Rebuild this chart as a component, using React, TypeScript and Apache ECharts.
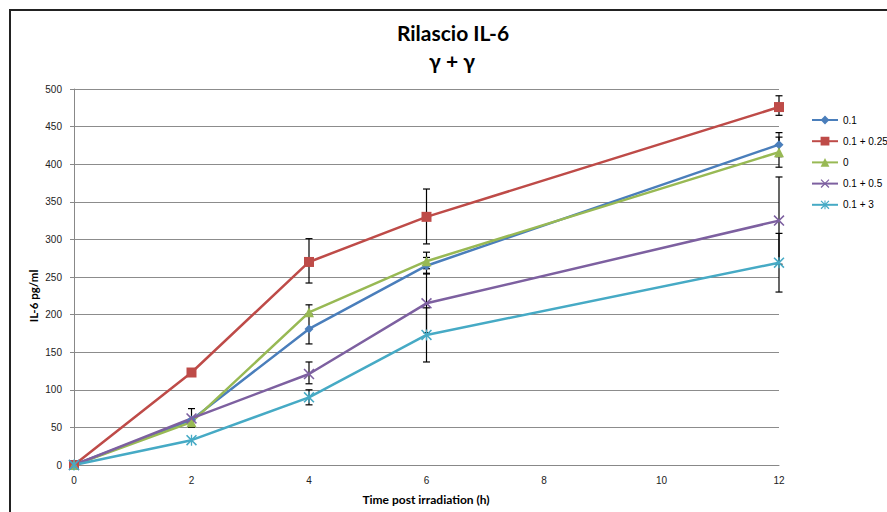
import React, { useEffect, useRef } from "react";
import * as echarts from "echarts";

const hours = [0, 2, 4, 6, 12];
const seriesNames = ["0.1", "0.1 + 0.25", "0", "0.1 + 0.5", "0.1 + 3"];
const s01 = [0, 60, 181, 265, 426];
const s025 = [0, 123, 270, 330, 476];
const s0 = [0, 57, 203, 271, 416];
const s05 = [0, 62, 121, 215, 325];
const s3 = [0, 33, 90, 173, 269];
// error bar ranges (low, high) per series, null where absent
const err01Low = [null, 50, 161, 254, 410];
const err01High = [null, 75, 201, 276, 442];
const err025Low = [null, null, 242, 294, 465];
const err025High = [null, null, 301, 367, 491];
const err0Low = [null, null, 198, 261, 396];
const err0High = [null, null, 213, 283, 436];
const err05Low = [null, null, 108, 176, 267];
const err05High = [null, null, 137, 255, 383];
const err3Low = [null, null, 80, 137, 230];
const err3High = [null, null, 100, 209, 308];
const yTicks = [0, 50, 100, 150, 200, 250, 300, 350, 400, 450, 500];
const xTicks = [0, 2, 4, 6, 8, 10, 12];

const colors = ["#4A7EBB", "#BE4B48", "#98B954", "#7D60A0", "#46AAC5"];
const xPath =
  "path://M0,1L1,0L5,4L9,0L10,1L6,5L10,9L9,10L5,6L1,10L0,9L4,5Z";
const starPath =
  "path://M0,1L1,0L5,4L9,0L10,1L6,5L10,9L9,10L5,6L1,10L0,9L4,5Z M4.4,0L5.6,0L5.6,10L4.4,10Z";
const symbols = ["diamond", "rect", "triangle", xPath, starPath];
const symbolSizes = [9, 10, 10, 11, 11];

export default function App() {
  const ref = useRef<HTMLDivElement>(null);
  useEffect(() => {
    if (!ref.current) return;
    const chart = echarts.init(ref.current, undefined, { renderer: "svg" });
    const vals = [s01, s025, s0, s05, s3];
    const lows = [err01Low, err025Low, err0Low, err05Low, err3Low];
    const highs = [err01High, err025High, err0High, err05High, err3High];
    const errData: number[][] = [];
    lows.forEach((lo, si) => {
      lo.forEach((l, i) => {
        const h = highs[si][i];
        if (l !== null && h !== null) errData.push([hours[i], l as number, h as number]);
      });
    });
    const lineSeries = vals.map((v, si) => ({
      name: seriesNames[si],
      type: "line",
      data: hours.map((h, i) => [h, v[i]]),
      symbol: symbols[si],
      symbolSize: symbolSizes[si],
      showAllSymbol: true,
      lineStyle: { color: colors[si], width: 2.5 },
      itemStyle: { color: colors[si] },
      z: 3,
    }));
    const errSeries = {
      name: "err",
      type: "custom",
      data: errData,
      z: 2,
      renderItem: (params: any, api: any) => {
        const x = api.value(0);
        const lo = api.coord([x, api.value(1)]);
        const hi = api.coord([x, api.value(2)]);
        const w = 3.5;
        const st = { stroke: "#000", lineWidth: 1.2 };
        return {
          type: "group",
          children: [
            { type: "line", shape: { x1: lo[0], y1: lo[1], x2: hi[0], y2: hi[1] }, style: st },
            { type: "line", shape: { x1: lo[0] - w, y1: lo[1], x2: lo[0] + w, y2: lo[1] }, style: st },
            { type: "line", shape: { x1: hi[0] - w, y1: hi[1], x2: hi[0] + w, y2: hi[1] }, style: st },
          ],
        };
      },
    };
    chart.setOption({
      animation: false,
      backgroundColor: "#fff",
      grid: { left: 74, right: 108, top: 89, bottom: 47 },
      legend: {
        data: seriesNames,
        orient: "vertical",
        left: 806,
        top: 110,
        itemWidth: 26,
        itemHeight: 11,
        itemGap: 11.2,
        textStyle: { fontFamily: "Liberation Sans", fontSize: 10, color: "#000" },
      },
      xAxis: {
        type: "value",
        min: xTicks[0],
        max: xTicks[xTicks.length - 1],
        interval: 2,
        axisLine: { show: true, onZero: false, lineStyle: { color: "#888" } },
        axisTick: { show: false },
        splitLine: { show: false },
        axisLabel: { fontFamily: "Liberation Sans", fontSize: 10, color: "#222", margin: 10 },
      },
      yAxis: {
        type: "value",
        min: yTicks[0],
        max: yTicks[yTicks.length - 1],
        interval: 50,
        axisLine: { show: true, lineStyle: { color: "#888" } },
        axisTick: { show: true, length: 4, lineStyle: { color: "#888" } },
        splitLine: { show: true, lineStyle: { color: "#8c8c8c", width: 1 } },
        axisLabel: { fontFamily: "Liberation Sans", fontSize: 10, color: "#222", margin: 12 },
      },
      graphic: [
        {
          type: "polyline",
          shape: { points: [[10, 512], [10, 10], [887, 10]] },
          style: { stroke: "#222", lineWidth: 2, fill: "none" },
        },
        {
          type: "text",
          x: 453,
          y: 32,
          style: {
            text: "Rilascio IL-6",
            fontFamily: "Lato",
            fontWeight: "bold",
            fontSize: 21,
            fill: "#000",
            align: "center",
            verticalAlign: "middle",
          },
        },
        {
          type: "text",
          x: 452,
          y: 60,
          style: {
            text: "γ + γ",
            fontFamily: "Lato",
            fontWeight: "bold",
            fontSize: 21,
            fill: "#000",
            align: "center",
            verticalAlign: "middle",
          },
        },
        {
          type: "text",
          x: 33,
          y: 296,
          rotation: Math.PI / 2,
          style: {
            text: "IL-6 pg/ml",
            fontFamily: "Lato",
            fontWeight: "bold",
            fontSize: 11.5,
            fill: "#000",
            align: "center",
            verticalAlign: "middle",
          },
        },
        {
          type: "text",
          x: 426,
          y: 499,
          style: {
            text: "Time post irradiation (h)",
            fontFamily: "Lato",
            fontWeight: "bold",
            fontSize: 12,
            fill: "#000",
            align: "center",
            verticalAlign: "middle",
          },
        },
      ],
      series: [errSeries, ...lineSeries],
    });
    return () => chart.dispose();
  }, []);
  return (
    <div
      ref={ref}
      style={{ position: "fixed", left: 0, top: 0, width: 887, height: 512 }}
    />
  );
}
